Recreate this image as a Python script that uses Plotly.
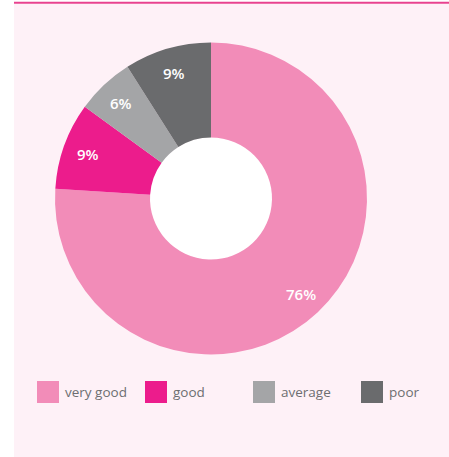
import math
import plotly.graph_objects as go

categories = ["very good", "good", "average", "poor"]
values = [76, 9, 6, 9]
colors = ["#f28cb8", "#ec1c8c", "#a4a5a7", "#6a6b6d"]

W, H = 449, 457
cx, cy, R, r_hole = 211, 198.5, 156, 61  # pixel geometry of donut
r_label = 131

def px_x(x):
    return x / W

def px_y(y):
    return 1 - y / H

fig = go.Figure()
fig.add_trace(go.Pie(
    labels=categories,
    values=values,
    sort=False,
    direction="clockwise",
    rotation=0,
    hole=r_hole / R,
    marker=dict(colors=colors, line=dict(width=0)),
    textinfo="none",
    domain=dict(x=[px_x(cx - R), px_x(cx + R)], y=[px_y(cy + R), px_y(cy - R)]),
    showlegend=False,
    hoverinfo="label+percent",
))

shapes = [
    dict(type="rect", xref="paper", yref="paper", x0=px_x(14), x1=1, y0=0, y1=px_y(4),
         fillcolor="#fef1f7", line=dict(width=0), layer="below"),
    dict(type="line", xref="paper", yref="paper", x0=px_x(14), x1=1, y0=px_y(2.8), y1=px_y(2.8),
         line=dict(color="#e8428f", width=2), layer="above"),
    dict(type="circle", xref="paper", yref="paper",
         x0=px_x(cx - r_hole), x1=px_x(cx + r_hole), y0=px_y(cy + r_hole), y1=px_y(cy - r_hole),
         fillcolor="white", line=dict(width=0), layer="below"),
]

annotations = []
total = sum(values)
cum = 0
for v in values:
    mid = (cum + v / 2) / total * 2 * math.pi
    cum += v
    lx = cx + r_label * math.sin(mid)
    ly = cy - r_label * math.cos(mid)
    annotations.append(dict(xref="paper", yref="paper", x=px_x(lx), y=px_y(ly),
                            xanchor="center", yanchor="middle",
                            text=f"{round(v / total * 100)}%", showarrow=False,
                            font=dict(family="Open Sans", size=15, color="white", weight=600)))

leg_x0, leg_step, leg_y, sq = 37, 108, 392, 22
for i, (cat, col) in enumerate(zip(categories, colors)):
    x = leg_x0 + i * leg_step
    shapes.append(dict(type="rect", xref="paper", yref="paper",
                       x0=px_x(x), x1=px_x(x + sq), y0=px_y(leg_y + sq / 2), y1=px_y(leg_y - sq / 2),
                       fillcolor=col, line=dict(width=0)))
    annotations.append(dict(xref="paper", yref="paper", x=px_x(x + sq + 4), y=px_y(leg_y),
                            xanchor="left", yanchor="middle", text=cat, showarrow=False,
                            font=dict(family="Open Sans", size=13.5, color="#6d6e71")))

fig.update_layout(
    width=W, height=H,
    margin=dict(l=0, r=0, t=0, b=0),
    paper_bgcolor="white",
    plot_bgcolor="white",
    shapes=shapes,
    annotations=annotations,
)

fig.write_html("out.html", config={"displayModeBar": False},
               post_script="document.body.style.margin='0';")
